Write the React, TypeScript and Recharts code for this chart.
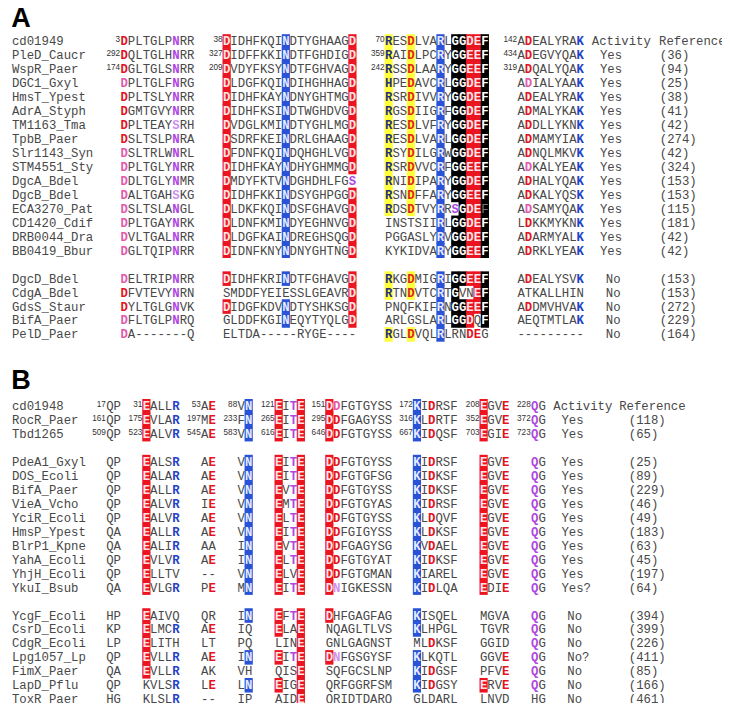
import React from 'react';
import { ScatterChart, Scatter, XAxis, YAxis } from 'recharts';

// ---------------- Panel A data ----------------
const aNames = ['cd01949', 'PleD_Caucr', 'WspR_Paer', 'DGC1_Gxyl', 'HmsT_Ypest', 'AdrA_Styph', 'TM1163_Tma', 'TpbB_Paer', 'Slr1143_Syn', 'STM4551_Sty', 'DgcA_Bdel', 'DgcB_Bdel', 'ECA3270_Pat', 'CD1420_Cdif', 'DRB0044_Dra', 'BB0419_Bbur', 'DgcD_Bdel', 'CdgA_Bdel', 'GdsS_Staur', 'BifA_Paer', 'PelD_Paer'];
const aGroup = [0, 0, 0, 0, 0, 0, 0, 0, 0, 0, 0, 0, 0, 0, 0, 0, 1, 1, 1, 1, 1];
const aSeqs = [
  'DPLTGLPNRR DIDHFKQINDTYGHAAGD RESDLVARLGGDEF ADEALYRAK',
  'DQLTGLHNRR DIDFFKKINDTFGHDIGD RAIDLPCRYGGEEF ADEGVYQAK',
  'DGLTGLSNRR DVDYFKSYNDTFGHVAGD RSSDLAARYGGEEF ADQALYQAK',
  'DPLTGLFNRG DLDGFKQINDIHGHHAGD HPEDAVCRLGGDEF ADIALYAAK',
  'DPLTSLYNRR DIDHFKAYNDNYGHTMGD RSRDIVVRYGGDEF ADEALYRAK',
  'DGMTGVYNRR DIDHFKSINDTWGHDVGD RGSDIIGRFGGDEF ADMALYKAK',
  'DPLTEAYSRH DVDGLKMINDTYGHLMGD RESDLVFRYGGDEF ADDLLYKNK',
  'DSLTSLPNRA DSDRFKEINDRLGHAAGD RESDLVARLGGDEF ADMAMYIAK',
  'DSLTRLWNRL DFDNFKQINDQHGHLVGD RSYDILGRWGGDEF ADNQLMKVK',
  'DPLTGLYNRR DIDHFKAYNDHYGHMMGD RSRDVVCRFGGEEF ADKALYEAK',
  'DDLTGLYNMR DMDYFKTVNDGHDHLFGS RNIDIPARYGGDEF ADHALYQAK',
  'DALTGAHSKG DIDHFKKINDSYGHPGGD RSNDFFARYGGEEF ADKALYQSK',
  'DSLTSLANGL DLDKFKQINDSFGHAVGD RDSDTVYRRSGDEF ADSAMYQAK',
  'DPLTGAYNRK DLDNFKMINDYEGHNVGD INSTSIIRLGGDEF LDKKMYKNK',
  'DVLTGALNRR DLDGFKAINDREGHSQGD PGGASLYRVGGDEF ADARMYALK',
  'DGLTQIPNRR DIDNFKNYNDNYGHTNGD KYKIDVARYGGEEF ADRKLYEAK',
  'DELTRIPNRR DIDHFKRINDTFGHAVGD RKGDMIGRIGGEEF ADEALYSVK',
  'DFVTEVYNRN SMDDFYEIESSLGEAVRD RTNDVTCRTGVNEF ATKALLHIN',
  'DYLTGLGNVK DIDGFKDVNDTYSHKSGD PNQFKIFRNGGEEF ADDMVHVAK',
  'DFLTGLPNRQ GLDDFKGINEQYTYQLGD ARLGSLARLGGDQF AEQTMTLAK',
  'DA-------Q ELTDA-----RYGE---- RGLDVQLRLRNDEG ---------',
];
// residue classes: r red box, b blue box, k black box, g black box dim letter,
// Y yellow box (R), O yellow box (D), R red letter, P pink letter, M violet letter,
// L light violet letter, B blue letter, . plain
const aMarks = [
  'R......M.. r.......b........r Y..O...b.kkrrk .R......B',
  'R......M.. r.......b........r Y..O...b.kkrrk .R......B',
  'R......M.. r.......b........r Y..O...b.kkrrk .R......B',
  'P......M.. r.......b........r Y..O...b.kkrrk .P......B',
  'R......M.. r.......b........r Y..O...b.kkrrk .R......B',
  'R......M.. r.......b........r Y..O...b.kkrrk .R......B',
  'R......L.. r.......b........r Y..O...b.kkrrk .R......B',
  'R......M.. r.......b........r Y..O...b.kkrrk .R......B',
  'P......M.. r.......b........r Y..O...b.kkrrk .R......B',
  'P......M.. r.......b........r Y..O...b.kkrrk .P......B',
  'P......M.. r.......b........M Y..O...b.kkrrk .R......B',
  'P......L.. r.......b........r Y..O...b.kkrrk .R......B',
  'P......M.. r.......b........r Y..O...b.Mkrrg .P......B',
  'P......M.. r.......b........r .......b.kkrrk .R......B',
  'P......M.. r.......b........r .......b.kkrrk .R......B',
  'P......M.. r.......b........r .......b.kkrrk .R......B',
  'P......M.. r.......b........r Y..O...b.kkrrk .R......B',
  'R......M.. .................r Y..O...b.k..rk .........',
  'R......M.. r.......b........r .......b.kkrrk .R......B',
  'P......M.. ........b........r .......b.kkr.k ........B',
  'P......... .................. Y..O...b...RR. .........',
];
const aSups = [
  ['3', '38', '70', '142'],
  ['292', '327', '359', '434'],
  ['174', '209', '242', '319'],
];
const aActivity = ['Activity', 'Yes', 'Yes', 'Yes', 'Yes', 'Yes', 'Yes', 'Yes', 'Yes', 'Yes', 'Yes', 'Yes', 'Yes', 'Yes', 'Yes', 'Yes', 'No', 'No', 'No', 'No', 'No'];
const aRefs = ['Reference', '(36)', '(94)', '(25)', '(38)', '(41)', '(42)', '(274)', '(42)', '(324)', '(153)', '(153)', '(115)', '(181)', '(42)', '(42)', '(153)', '(153)', '(272)', '(229)', '(164)'];

// ---------------- Panel B data ----------------
const bNames = ['cd01948', 'RocR_Paer', 'Tbd1265', 'PdeA1_Gxyl', 'DOS_Ecoli', 'BifA_Paer', 'VieA_Vcho', 'YciR_Ecoli', 'HmsP_Ypest', 'BlrP1_Kpne', 'YahA_Ecoli', 'YhjH_Ecoli', 'YkuI_Bsub', 'YcgF_Ecoli', 'CsrD_Ecoli', 'CdgR_Ecoli', 'Lpg1057_Lp', 'FimX_Paer', 'LapD_Pflu', 'ToxR_Paer'];
const bGroup = [0, 0, 0, 1, 1, 1, 1, 1, 1, 1, 1, 1, 1, 2, 2, 2, 2, 2, 2, 2];
const bSeqs = [
  'QP EALLR AE VN EITE DDFGTGYSS KIDRSF EGVE QG',
  'QP EVLAR ME FN EITE DDFGAGYSS KLDRTF EGVE QG',
  'QP EALVR AE VN EITE DDFGTGYSS KIDQSF EGIE QG',
  'QP EALSR AE VN EITE DDFGTGYSS KIDRSF EGVE QG',
  'QP EALAR AE VN EITE DDFGTGFSG KIDKSF EGVE QG',
  'QP EALLR AE VN EVTE DDFGTGYSS KIDKSF EGVE QG',
  'QP EALVR IE VN EMTE DDFGTGYAS KIDRSF EGVE QG',
  'QP EALVR AE VN ELTE DDFGTGYSS KLDQVF EGVE QG',
  'QA EALLR AE VN EITE DDFGIGYSS KLDKSF EGVE QG',
  'QA EALIR AA IN EVTE DDFGAGYSG KVDAEL EGVE QG',
  'QP EVLVR AE IN ELTE DDFGTGYAT KIDKSF EGVE QG',
  'QP ELLTV -- VN ELVE DDFGTGMAN KIAREL EGVE QG',
  'QA EVLGR PE MN EITE DNIGKESSN KIDLQA EDIE QG',
  'HP EAIVQ QR IN EFTE DHFGAGFAG KISQEL MGVA QG',
  'KP ELMCR AE IQ ELAE NQAGLTLVS KLHPGL TGVR QG',
  'LP ELITH LT PQ LINE GNLGAGNST MLDKSF GGID QG',
  'QP EVLLR AE IN EITE DNFGSGYSF KLKQTL GGVE QG',
  'QA EVLLR AK VH QISE SQFGCSLNP KIDGSF PFVE QG',
  'QP KVLSR LE LN EIGE QRFGGRFSM KIDGSY ERVE QG',
  'HG KLSLR -- IP AIDE QRIDTDARQ GLDARL LNVD HG',
];
const bMarks = [
  '.. r...B .R .b r.Mr rP....... b.R... r..R M.',
  '.. r...B .R .b r.Mr rR....... b.R... r..R M.',
  '.. r...B .R .b r.Mr rR....... b.R... r..R M.',
  '.. r...B .R .b r.Mr rR....... b.R... r..R M.',
  '.. r...B .R .b r.Mr rR....... b.R... r..R M.',
  '.. r...B .R .b r.Mr rR....... b.R... r..R M.',
  '.. r...B .R .b r.Mr rR....... b.R... r..R M.',
  '.. r...B .R .b r.Mr rR....... b.R... r..R M.',
  '.. r...B .R .b r.Mr rR....... b.R... r..R M.',
  '.. r...B .. .b r.Mr rR....... b.R... r..R M.',
  '.. r...B .R .b r.Mr rR....... b.R... r..R M.',
  '.. r.... .. .b r..r rR....... b..... r..R M.',
  '.. r...B .R .b r.Mr rL....... b.R... r..R M.',
  '.. r.... .. .b r.Mr r........ b..... .... M.',
  '.. r...B .R .. r..r ......... b..... .... M.',
  '.. r.... .. .. ...r ......... ..R... .... M.',
  '.. r...B .R .b r.Mr rL....... b..... ...R M.',
  '.. r...B .. .. ...r ......... b.R... ...R M.',
  '.. ....B .R .b r..r ......... b.R... r..R M.',
  '.. ....B .. .. ...r ......... ...... .... ..',
];
const bSups = [
  ['17', '31', '53', '88', '121', '151', '172', '208', '228'],
  ['161', '175', '197', '233', '265', '295', '316', '352', '372'],
  ['509', '523', '545', '583', '616', '646', '667', '703', '723'],
];
const bActivity = ['Activity', 'Yes', 'Yes', 'Yes', 'Yes', 'Yes', 'Yes', 'Yes', 'Yes', 'Yes', 'Yes', 'Yes', 'Yes?', 'No', 'No', 'No', 'No?', 'No', 'No', 'No'];
const bRefs = ['Reference', '(118)', '(65)', '(25)', '(89)', '(229)', '(46)', '(49)', '(183)', '(63)', '(45)', '(197)', '(64)', '(394)', '(399)', '(226)', '(411)', '(85)', '(166)', '(461)'];

// ---------------- layout ----------------
const W = 722;
const H = 703;
const CW = 7.399;
const RH = 13.95;
const XMAX = W / CW;
const YMIN = -2.4;
const YMAX = YMIN + H / RH;
const MONO = '"Liberation Mono", "Courier New", monospace';
const SANS = '"Liberation Sans", Arial, sans-serif';

const layoutA = { row0: 0, name: 0.54, segs: [15.2, 29.05, 50.95, 68.85], actHead: 78.9, act: 80.0, noShift: 0.8, refHead: 88.0, ref: 88.1 };
const layoutB = { row0: 26.15, name: 0.54, segs: [13.27, 18.2, 26.1, 31.03, 36.08, 42.93, 54.77, 63.78, 70.7], actHead: 73.7, act: 74.8, noShift: 0.8, refHead: 82.6, ref: 83.9 };

type Cell = { x: number; y: number; t: string; k: string };

const BG_CODES = 'rbkgYO';

function buildPanel(names: string[], group: number[], seqs: string[], marks: string[], sups: string[][], act: string[], refs: string[], L: any, fg: Cell[], bg: Cell[]) {
  names.forEach((name, i) => {
    const y = L.row0 + i + group[i];
    fg.push({ x: L.name, y, t: name, k: 'name' });
    const segs = seqs[i].split(' ');
    const ms = marks[i].split(' ');
    segs.forEach((s, si) => {
      const start = L.segs[si];
      if (sups[i]) fg.push({ x: start - 0.05, y, t: sups[i][si], k: 'sup' });
      for (let j = 0; j < s.length; j++) {
        const code = ms[si][j];
        const c = { x: start + j + 0.5, y, t: s[j], k: code };
        fg.push(c);
        if (BG_CODES.includes(code)) bg.push(c);
      }
    });
    const a = act[i];
    fg.push({ x: i === 0 ? L.actHead : L.act + (a.startsWith('No') ? L.noShift : 0), y, t: a, k: 'name' });
    fg.push({ x: i === 0 ? L.refHead : L.ref, y, t: refs[i], k: 'name' });
  });
}

const fgCells: Cell[] = [];
const bgCells: Cell[] = [];
buildPanel(aNames, aGroup, aSeqs, aMarks, aSups, aActivity, aRefs, layoutA, fgCells, bgCells);
buildPanel(bNames, bGroup, bSeqs, bMarks, bSups, bActivity, bRefs, layoutB, fgCells, bgCells);
fgCells.push({ x: 0.45, y: -1.75, t: 'A', k: 'panel' });
fgCells.push({ x: 0.45, y: 24.25, t: 'B', k: 'panel' });

const BG_FILL: Record<string, string> = { r: '#ea1520', b: '#2a52d6', k: '#000000', g: '#000000', Y: '#ffff3a', O: '#ffff3a' };
const FG: Record<string, [string, boolean]> = {
  '.': ['#484848', false],
  r: ['#ffe2e6', true],
  b: ['#e4ebff', true],
  k: ['#ffffff', true],
  g: ['#777777', false],
  Y: ['#1f2f80', true],
  O: ['#e2261a', true],
  R: ['#e3141f', true],
  P: ['#e25aae', true],
  M: ['#b046e2', true],
  L: ['#cc92ee', true],
  B: ['#2342c8', true],
};

const renderBg = (p: any) => {
  const { cx, cy, payload } = p;
  if (cx == null || cy == null) return <g />;
  return <rect x={cx - CW / 2 - 0.4} y={cy - RH / 2 - 0.3} width={CW + 0.8} height={RH + 0.6} fill={BG_FILL[payload.k]} />;
};

const renderFg = (p: any) => {
  const { cx, cy, payload } = p;
  if (cx == null || cy == null) return <g />;
  const k = payload.k;
  if (k === 'name') {
    return <text x={cx} y={cy + 4} fontFamily={MONO} fontSize={12.3} fill="#484848">{payload.t}</text>;
  }
  if (k === 'sup') {
    return <text x={cx} y={cy + 0.5} textAnchor="end" fontFamily={SANS} fontSize={8.2} fill="#333">{payload.t}</text>;
  }
  if (k === 'panel') {
    return <text x={cx} y={cy + 9.7} fontFamily={SANS} fontSize={27} fontWeight="bold" fill="#000">{payload.t}</text>;
  }
  const [col, bold] = FG[k] || FG['.'];
  return (
    <text x={cx} y={cy + 4} textAnchor="middle" fontFamily={MONO} fontSize={12.3} fontWeight={bold ? 'bold' : 'normal'} fill={col}>
      {payload.t}
    </text>
  );
};

export default function App() {
  return (
    <div style={{ width: W, height: H, marginBottom: -8, background: '#fff' }}>
      <style>{'.recharts-surface{overflow:visible}'}</style>
      <ScatterChart width={W} height={H} margin={{ top: 0, right: 0, bottom: 0, left: 0 }}>
        <XAxis type="number" dataKey="x" domain={[0, XMAX]} hide />
        <YAxis type="number" dataKey="y" domain={[YMIN, YMAX]} reversed hide />
        <Scatter data={bgCells} shape={renderBg} isAnimationActive={false} />
        <Scatter data={fgCells} shape={renderFg} isAnimationActive={false} />
      </ScatterChart>
    </div>
  );
}
